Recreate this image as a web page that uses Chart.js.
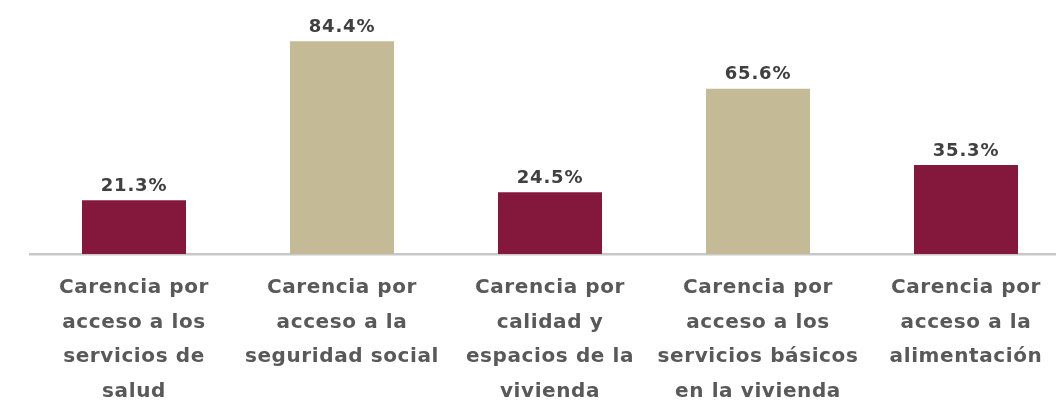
<!DOCTYPE html>
<html>
<head>
<meta charset="utf-8">
<script src="https://cdn.jsdelivr.net/npm/chart.js@4/dist/chart.umd.min.js"></script>
<style>
  html, body { margin: 0; padding: 0; background: #ffffff; overflow: hidden; }
  #wrap { width: 1070px; height: 400px; }
</style>
</head>
<body>
<div id="wrap"><canvas id="c" width="1070" height="400"></canvas></div>
<script>
const categories = [
  ["Carencia por", "acceso a los", "servicios de", "salud"],
  ["Carencia por", "acceso a la", "seguridad social"],
  ["Carencia por", "calidad y", "espacios de la", "vivienda"],
  ["Carencia por", "acceso a los", "servicios básicos", "en la vivienda"],
  ["Carencia por", "acceso a la", "alimentación"]
];
const values = [21.3, 84.4, 24.5, 65.6, 35.3];
const valueLabels = ["21.3%", "84.4%", "24.5%", "65.6%", "35.3%"];
const barColors = ["#84173C", "#C4BA95", "#84173C", "#C4BA95", "#84173C"];

const FONT = "'DejaVu Sans', sans-serif";

const spacingPlugin = {
  id: 'spacing',
  beforeDraw(chart) { chart.ctx.letterSpacing = '0.6px'; }
};

const valueLabelPlugin = {
  id: 'valueLabels',
  afterDatasetsDraw(chart) {
    const ctx = chart.ctx;
    const meta = chart.getDatasetMeta(0);
    ctx.save();
    ctx.letterSpacing = '0.8px';
    ctx.font = "bold 18px " + FONT;
    ctx.fillStyle = "#404040";
    ctx.textAlign = "center";
    ctx.textBaseline = "middle";
    meta.data.forEach((bar, i) => {
      ctx.fillText(valueLabels[i], bar.x, bar.y - 14);
    });
    ctx.restore();
  }
};

new Chart(document.getElementById('c'), {
  type: 'bar',
  data: {
    labels: categories,
    datasets: [{
      data: values,
      backgroundColor: barColors,
      borderWidth: 0,
      barPercentage: 0.5,
      categoryPercentage: 1.0
    }]
  },
  options: {
    responsive: false,
    animation: false,
    layout: { padding: { left: 30, right: 0, top: 2, bottom: 0 } },
    plugins: { legend: { display: false }, tooltip: { enabled: false } },
    scales: {
      y: { display: false, min: 0, max: 100 },
      x: {
        grid: { display: false },
        border: { display: true, color: "#C8C8C8", width: 2.5 },
        ticks: {
          color: "#595959",
          padding: 9,
          maxRotation: 0,
          autoSkip: false,
          font: { family: FONT, size: 20, weight: 'bold', lineHeight: 1.72 }
        },
        afterFit(scale) { scale.height = 146; }
      }
    }
  },
  plugins: [spacingPlugin, valueLabelPlugin]
});
</script>
</body>
</html>
